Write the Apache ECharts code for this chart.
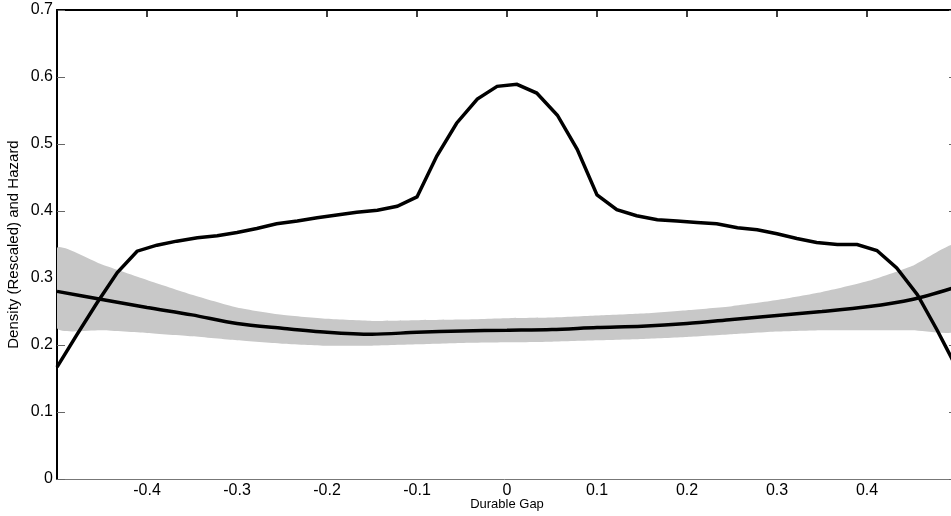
<!DOCTYPE html>
<html>
<head>
<meta charset="utf-8">
<script src="https://cdn.jsdelivr.net/npm/echarts@6/dist/echarts.min.js"></script>
<style>html,body{margin:0;padding:0;background:#fff}#c{width:951px;height:516px}</style>
</head>
<body>
<div id="c"></div>
<script>
// Density (rescaled): x grid and values
var densityX = [-0.5,-0.478,-0.456,-0.433,-0.411,-0.389,-0.367,-0.344,-0.322,-0.3,-0.278,-0.256,-0.233,-0.211,-0.189,-0.167,-0.144,-0.122,-0.1,-0.078,-0.056,-0.033,-0.011,0.011,0.033,0.056,0.078,0.1,0.122,0.144,0.167,0.189,0.211,0.233,0.256,0.278,0.3,0.322,0.344,0.367,0.389,0.411,0.433,0.456,0.478,0.5];
var densityY = [0.167,0.215,0.262,0.308,0.340,0.349,0.355,0.360,0.363,0.368,0.374,0.381,0.385,0.390,0.394,0.398,0.401,0.407,0.421,0.482,0.531,0.567,0.586,0.589,0.576,0.543,0.492,0.424,0.402,0.393,0.387,0.385,0.383,0.381,0.375,0.372,0.366,0.359,0.353,0.350,0.350,0.341,0.315,0.275,0.222,0.165];

// Hazard and its confidence band
var hazardX = [-0.5,-0.45,-0.4,-0.35,-0.3,-0.25,-0.2,-0.15,-0.1,-0.05,0,0.05,0.1,0.15,0.2,0.25,0.3,0.35,0.4,0.45,0.5];
var hazardY = [0.280,0.268,0.256,0.245,0.232,0.225,0.219,0.216,0.219,0.221,0.222,0.223,0.226,0.228,0.232,0.238,0.244,0.250,0.257,0.268,0.287];
var bandUpper = [0.345,0.320,0.297,0.275,0.256,0.245,0.239,0.236,0.237,0.238,0.240,0.241,0.244,0.247,0.252,0.258,0.267,0.279,0.295,0.318,0.350];
var bandLower = [0.225,0.222,0.218,0.213,0.207,0.202,0.199,0.199,0.201,0.203,0.204,0.205,0.207,0.209,0.212,0.216,0.220,0.222,0.222,0.222,0.222];

var xTickLabels = ['-0.4','-0.3','-0.2','-0.1','0','0.1','0.2','0.3','0.4'];
var yTickLabels = ['0','0.1','0.2','0.3','0.4','0.5','0.6','0.7'];

function zip(xs, ys){ return xs.map(function(x,i){ return [x, ys[i]]; }); }
var bandData = hazardX.map(function(x,i){ return [x, bandLower[i], bandUpper[i]]; });

var chart = echarts.init(document.getElementById('c'), null, {renderer:'canvas'});
var font = 'Liberation Sans, Arial, sans-serif';
function fmtX(v){
  var s = (Math.abs(v) < 1e-9) ? '0' : String(+v.toFixed(1));
  return xTickLabels.indexOf(s) >= 0 ? s : '';
}
function fmtY(v){
  var s = (Math.abs(v) < 1e-9) ? '0' : String(+v.toFixed(1));
  return yTickLabels.indexOf(s) >= 0 ? s : '';
}
chart.setOption({
  animation: false,
  backgroundColor: '#fff',
  grid: {left: 57, right: -6, top: 10, bottom: 37, containLabel: false, outerBoundsMode: 'none'},
  xAxis: [{
    type: 'value', min: -0.5, max: 0.5, interval: 0.1, position: 'bottom',
    name: 'Durable Gap', nameLocation: 'middle', nameGap: 19, nameMoveOverlap: false,
    nameTextStyle: {fontFamily: font, fontSize: 13, color: '#000'},
    axisLine: {onZero: false, lineStyle: {color: '#777', width: 1}},
    axisTick: {show: false},
    axisLabel: {formatter: fmtX, fontFamily: font, fontSize: 16, color: '#000', margin: 4},
    splitLine: {show: false}
  },{
    type: 'value', min: -0.5, max: 0.5, interval: 0.1, position: 'top',
    axisLine: {onZero: false, lineStyle: {color: '#000', width: 2}},
    axisTick: {show: true, inside: true, length: 7, lineStyle: {color: '#000', width: 1.5}},
    axisLabel: {show: false},
    splitLine: {show: false}
  }],
  yAxis: [{
    type: 'value', min: 0, max: 0.7, interval: 0.1, position: 'left',
    name: 'Density (Rescaled) and Hazard', nameLocation: 'middle', nameGap: 36, nameMoveOverlap: false,
    nameTextStyle: {fontFamily: font, fontSize: 15, color: '#000'},
    axisLine: {onZero: false, lineStyle: {color: '#000', width: 2}},
    axisTick: {show: true, inside: true, length: 8, lineStyle: {color: '#666', width: 1}},
    axisLabel: {formatter: fmtY, fontFamily: font, fontSize: 16, color: '#000', margin: 4},
    splitLine: {show: false}
  },{
    type: 'value', min: 0, max: 0.7, interval: 0.1, position: 'right',
    axisLine: {onZero: false, lineStyle: {color: '#000', width: 1.5}},
    axisTick: {show: true, inside: true, length: 8, lineStyle: {color: '#666', width: 1}},
    axisLabel: {show: false},
    splitLine: {show: false}
  }],
  series: [
    {type: 'custom', data: bandData, encode: {x: 0, y: [1, 2]}, silent: true, z: 1, clip: true,
     renderItem: function(params, api){
       if (params.dataIndex !== 0) return null;
       var top = [], bot = [];
       for (var i = 0; i < bandData.length; i++) {
         top.push(api.coord([bandData[i][0], bandData[i][2]]));
         bot.push(api.coord([bandData[i][0], bandData[i][1]]));
       }
       var pts = top.concat(bot.reverse());
       return {type: 'polygon', shape: {points: pts, smooth: 0.2}, style: {fill: '#c8c8c8', stroke: null}};
     }},
    {type: 'line', data: zip(hazardX, hazardY), smooth: 0.3, symbol: 'none',
     lineStyle: {color: '#000', width: 3.5}, z: 3},
    {type: 'line', data: zip(densityX, densityY), symbol: 'none',
     lineStyle: {color: '#000', width: 3.5, join: 'miter'}, z: 4}
  ]
});
</script>
</body>
</html>
